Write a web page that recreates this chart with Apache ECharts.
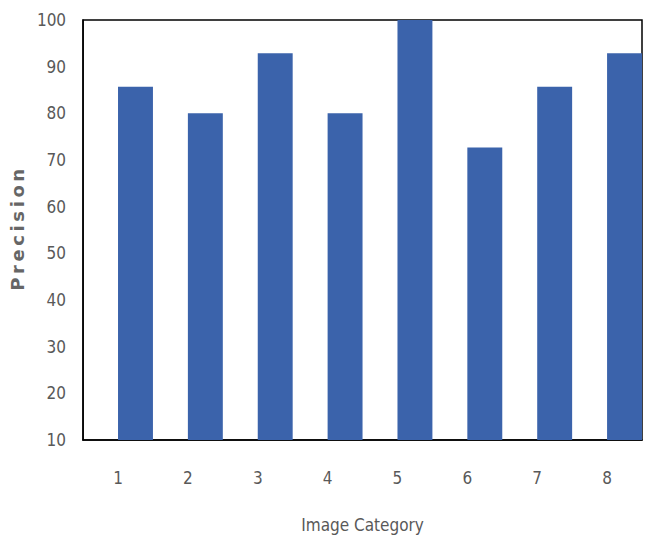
<!DOCTYPE html>
<html><head><meta charset="utf-8">
<script src="https://cdn.jsdelivr.net/npm/echarts@6/dist/echarts.min.js"></script>
<style>html,body{margin:0;padding:0;background:#fff}#c{width:645px;height:538px}</style>
</head><body><div id="c"></div>
<script>
const categories = ['1','2','3','4','5','6','7','8'];
const precision = [85.7, 80, 92.9, 80, 100, 72.7, 85.7, 92.9];
const yMin = 10, yMax = 100, yStep = 10;
const xTitle = 'Image Category';
const yTitle = 'Precision';

const chart = echarts.init(document.getElementById('c'), null, {renderer: 'svg'});
const labelFont = '"Liberation Sans Narrow", "DejaVu Sans Condensed", sans-serif';
chart.setOption({
  animation: false,
  grid: {left: 78, right: 3, top: 20, bottom: 98, show: true, borderColor: '#000', borderWidth: 1.5, backgroundColor: 'transparent'},
  xAxis: {
    type: 'category', data: categories,
    axisLine: {lineStyle: {color: '#000', width: 1.5}},
    axisTick: {show: false},
    axisLabel: {color: '#595959', fontSize: 17, fontFamily: labelFont, margin: 29},
    name: xTitle, nameLocation: 'middle', nameGap: 76,
    nameTextStyle: {color: '#595959', fontSize: 17, fontFamily: labelFont}
  },
  yAxis: {
    type: 'value', min: yMin, max: yMax, interval: yStep,
    axisLine: {show: true, lineStyle: {color: '#000', width: 1.5}},
    axisTick: {show: false},
    splitLine: {show: false},
    axisLabel: {color: '#595959', fontSize: 17, fontFamily: labelFont, margin: 17},
    name: yTitle, nameLocation: 'middle', nameGap: 48,
    nameTextStyle: {color: '#666', fontSize: 18, fontWeight: 'bold', fontFamily: '"DejaVu Sans", sans-serif'}
  },
  series: [
    {type: 'bar', data: categories.map(() => '-'), barGap: '0%', barCategoryGap: '0%', itemStyle: {color: 'transparent'}, silent: true},
    {type: 'bar', data: precision, barGap: '0%', barCategoryGap: '0%', itemStyle: {color: '#3b63ab'}}
  ]
});
// widen the letter spacing of the y-axis title as in the reference
document.querySelectorAll('#c svg text').forEach(t => {
  if (t.textContent === yTitle) {
    t.style.letterSpacing = '3.6px';
    t.setAttribute('dx', '2');
  }
});
</script></body></html>
